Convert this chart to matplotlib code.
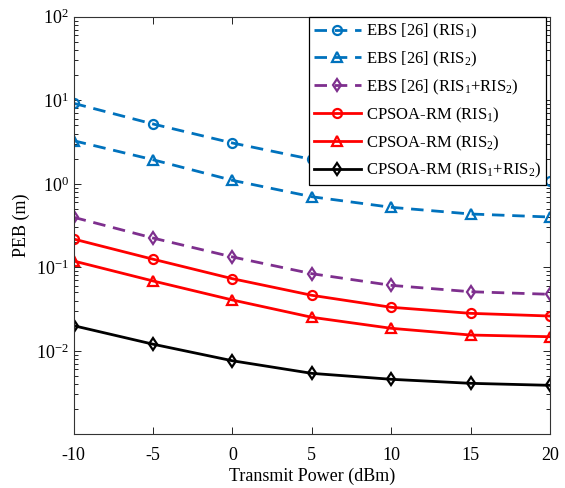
import matplotlib
matplotlib.use("Agg")
import matplotlib.pyplot as plt
import numpy as np
from matplotlib.ticker import LogLocator, NullFormatter

plt.rcParams['font.family'] = ['Liberation Serif', 'DejaVu Serif']
plt.rcParams['mathtext.fontset'] = 'custom'
plt.rcParams['mathtext.rm'] = 'Liberation Serif'
plt.rcParams['mathtext.it'] = 'Liberation Serif:italic'

# transmit power sweep (dBm)
power = [-10, -5, 0, 5, 10, 15, 20]

# PEB values (m)
ebs_ris1 = [9.2, 5.2, 3.08, 1.96, 1.45, 1.22, 1.09]
ebs_ris2 = [3.28, 1.94, 1.10, 0.70, 0.523, 0.435, 0.40]
ebs_both = [0.397, 0.224, 0.133, 0.0838, 0.0608, 0.051, 0.0475]
cpsoa_ris1 = [0.218, 0.125, 0.073, 0.0462, 0.0332, 0.0281, 0.0261]
cpsoa_ris2 = [0.119, 0.0686, 0.0406, 0.0252, 0.0186, 0.01545, 0.01475]
cpsoa_both = [0.020, 0.0120, 0.0076, 0.00537, 0.00456, 0.00408, 0.00386]

blue = '#0072BD'
purple = '#7E2F8E'

fig = plt.figure(figsize=(5.65, 4.88), dpi=100)
ax = fig.add_axes([0.1304, 0.110, 0.8431, 0.8556])

mk = dict(markersize=6.5, markerfacecolor='none', markeredgewidth=1.6, linewidth=2)
dash = dict(dashes=(4.5, 2.8))
ax.plot(power, ebs_ris1, '--o', color=blue, label='EBS [26] (RIS$_1$)', **mk, **dash)
ax.plot(power, ebs_ris2, '--^', color=blue, label='EBS [26] (RIS$_2$)', **mk, **dash)
ax.plot(power, ebs_both, '--d', color=purple, label='EBS [26] (RIS$_1$+RIS$_2$)', **mk, **dash)
ax.plot(power, cpsoa_ris1, '-o', color='red', label='CPSOA-RM (RIS$_1$)', **mk)
ax.plot(power, cpsoa_ris2, '-^', color='red', label='CPSOA-RM (RIS$_2$)', **mk)
ax.plot(power, cpsoa_both, '-d', color='black', label='CPSOA-RM (RIS$_1$+RIS$_2$)', **mk)

ax.set_yscale('log')
ax.set_xlim(-10, 20)
ax.set_ylim(1e-3, 1e2)
ax.set_xticks(power)
ax.set_xticklabels([str(p) for p in power])
ax.yaxis.set_minor_locator(LogLocator(base=10, subs=np.arange(2, 10), numticks=10))
ax.yaxis.set_minor_formatter(NullFormatter())
ax.set_yticks([1e-2, 1e-1, 1e0, 1e1, 1e2])
ax.set_yticklabels(['$10^{-2}$', '$10^{-1}$', '$10^{0}$', '$10^{1}$', '$10^{2}$'])

ax.tick_params(which='both', direction='in', top=True, right=True, labelsize=13, width=0.6)
ax.tick_params(axis='x', pad=9)
ax.tick_params(which='major', length=5)
ax.tick_params(which='minor', length=3)
for s in ax.spines.values():
    s.set_linewidth(0.8)
    s.set_color('#333333')

ax.set_xlabel('Transmit Power (dBm)', fontsize=13, labelpad=3)
ax.set_ylabel('PEB (m)', fontsize=13)

leg = ax.legend(loc='upper right', fontsize=12, frameon=True, fancybox=False,
                edgecolor='black', framealpha=1, handlelength=2.8, borderpad=0.3,
                labelspacing=0.52, handletextpad=0.3, borderaxespad=0.0,
                bbox_to_anchor=(0.992, 1.0))
leg.get_frame().set_linewidth(0.9)

fig.savefig('out.png', dpi=100)
